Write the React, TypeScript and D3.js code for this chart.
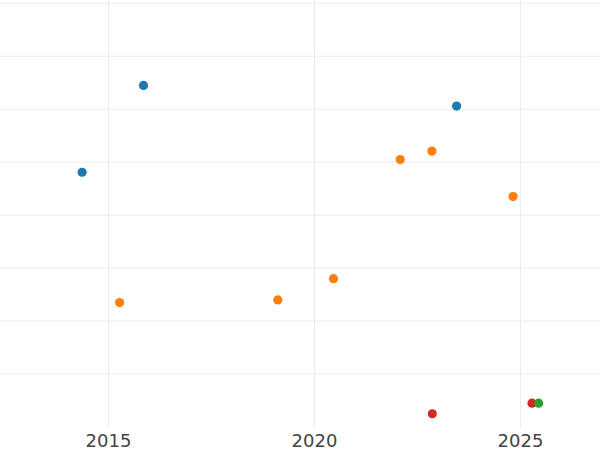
import React from "react";
import * as d3 from "d3";

const seriesNames = ["blue", "orange", "red", "green"];
const seriesColors = ["#1f77b4", "#ff7f0e", "#d62728", "#2ca02c"];

const blueX = [2014.36, 2015.85, 2023.45];
const blueY = [3.81, 5.45, 5.06];
const orangeX = [2015.27, 2019.11, 2020.46, 2022.08, 2022.85, 2024.82];
const orangeY = [1.35, 1.4, 1.8, 4.05, 4.21, 3.35];
const redX = [2022.86, 2025.28];
const redY = [-0.75, -0.55];
const greenX = [2025.44];
const greenY = [-0.55];

const xTicks = [2015, 2020, 2025];
const yTicks = [0, 1, 2, 3, 4, 5, 6, 7];

const W = 600;
const H = 450;

export default function App() {
  const x = d3.scaleLinear().domain([2012.3665, 2026.93]).range([0, W]);
  const y = d3.scaleLinear().domain([-1, 7.062]).range([427, 0]);

  const series = [
    { name: seriesNames[0], xs: blueX, ys: blueY, color: seriesColors[0] },
    { name: seriesNames[1], xs: orangeX, ys: orangeY, color: seriesColors[1] },
    { name: seriesNames[2], xs: redX, ys: redY, color: seriesColors[2] },
    { name: seriesNames[3], xs: greenX, ys: greenY, color: seriesColors[3] },
  ];

  return (
    <svg
      width={W}
      height={H}
      style={{ position: "absolute", left: 0, top: 0, background: "#fff" }}
      fontFamily="DejaVu Sans, sans-serif"
    >
      <rect x={0} y={0} width={W} height={H} fill="#fff" />
      {yTicks.map((t) => (
        <line
          key={"gy" + t}
          x1={0}
          x2={W}
          y1={y(t)}
          y2={y(t)}
          stroke="#ebebeb"
          strokeWidth={1}
        />
      ))}
      {xTicks.map((t) => (
        <line
          key={"gx" + t}
          x1={x(t)}
          x2={x(t)}
          y1={0}
          y2={y(-1)}
          stroke="#ebebeb"
          strokeWidth={1}
        />
      ))}
      {series.map((s) =>
        s.xs.map((xv, i) => (
          <circle
            key={s.name + i}
            cx={x(xv)}
            cy={y(s.ys[i])}
            r={4.6}
            fill={s.color}
          />
        ))
      )}
      {xTicks.map((t) => (
        <text
          key={"tx" + t}
          x={x(t)}
          y={447}
          textAnchor="middle"
          fontSize={18}
          fill="#444"
        >
          {t}
        </text>
      ))}
    </svg>
  );
}
